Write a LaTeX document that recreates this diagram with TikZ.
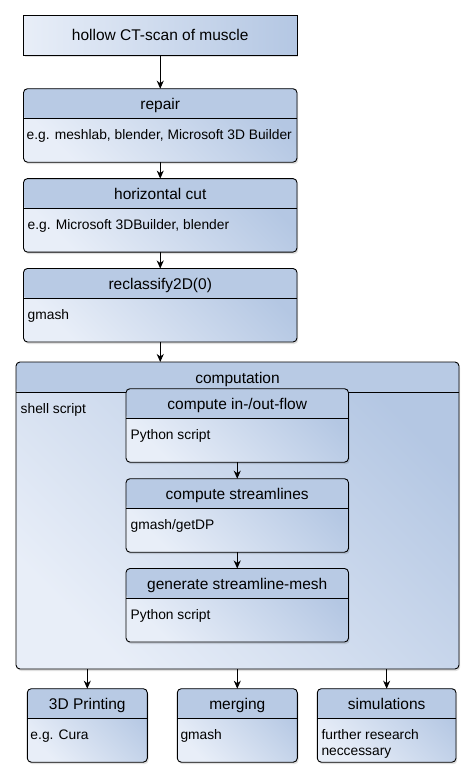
\documentclass[tikz,border=0pt]{standalone}
\usepackage{fontspec}
\setmainfont{Liberation Sans}
\usetikzlibrary{shadows,arrows.meta}
\definecolor{lightblue}{HTML}{E8EEF8}
\definecolor{darkblue}{HTML}{B4C7E3}
\definecolor{hdrblue}{HTML}{B8CAE4}
\tikzset{
  softshadow/.style={drop shadow={shadow xshift=1.2pt, shadow yshift=-2pt, opacity=0.12, fill=black}},
  plainbox/.style={draw=black, line width=0.9pt, left color=lightblue, right color=darkblue,
    inner sep=0pt, outer sep=0pt, anchor=north west, softshadow},
  card/.style={draw=black, line width=0.9pt, top color=darkblue, bottom color=lightblue,
    shading angle=-45, rounded corners=4pt, inner sep=0pt, outer sep=0pt, anchor=north west, softshadow,
    path picture={
      \fill[hdrblue] (path picture bounding box.north west) rectangle ([yshift=-30pt]path picture bounding box.north east);
      \draw[line width=0.9pt] ([yshift=-30pt]path picture bounding box.north west) -- ([yshift=-30pt]path picture bounding box.north east);
    }},
  hdrtext/.style={font=\fontsize{15.5}{18}\selectfont, anchor=base, inner sep=0pt},
  bodytext/.style={font=\fontsize{13.8}{16.5}\selectfont, anchor=base west, inner sep=0pt, align=left},
  arr/.style={-{Stealth[length=8pt,width=7pt,inset=2.5pt]}, line width=0.9pt},
}
\begin{document}
\begin{tikzpicture}[x=1pt,y=-1pt]
\useasboundingbox[fill=white] (0,0) rectangle (474,777);

% main column
\node[plainbox, minimum width=273.5pt, minimum height=39.5pt] (ct) at (23.5,15.5) {};
\node[hdrtext] (ctT) at ([yshift=-5.5pt]ct.center) {hollow CT-scan of muscle};

\node[card, minimum width=273.5pt, minimum height=73.5pt] (repair) at (23.5,88.7) {};
\node[hdrtext] (repairT) at ([yshift=-21pt]repair.north) {repair};
\node[bodytext] (repairB) at ([xshift=3pt,yshift=-51pt]repair.north west) {e.g. meshlab, blender, Microsoft 3D Builder};

\node[card, minimum width=273.5pt, minimum height=73.5pt] (hcut) at (23.5,178.6) {};
\node[hdrtext] (hcutT) at ([yshift=-21pt]hcut.north) {horizontal cut};
\node[bodytext] (hcutB) at ([xshift=4pt,yshift=-51pt]hcut.north west) {e.g. Microsoft 3DBuilder, blender};

\node[card, minimum width=273.5pt, minimum height=73.5pt] (recl) at (23.5,268.5) {};
\node[hdrtext] (reclT) at ([yshift=-21pt]recl.north) {reclassify2D(0)};
\node[bodytext] (reclB) at ([xshift=4pt,yshift=-51pt]recl.north west) {gmash};

% computation container
\node[card, minimum width=443pt, minimum height=307pt] (comp) at (16,362) {};
\node[hdrtext] (compT) at ([yshift=-21pt]comp.north) {computation};
\node[bodytext] (compB) at ([xshift=4.5pt,yshift=-51pt]comp.north west) {shell script};

\node[card, minimum width=222.5pt, minimum height=73.5pt] (inflow) at (126,388.7) {};
\node[hdrtext] (inflowT) at ([yshift=-21pt]inflow.north) {compute in-/out-flow};
\node[bodytext] (inflowB) at ([xshift=4.5pt,yshift=-51pt]inflow.north west) {Python script};

\node[card, minimum width=222.5pt, minimum height=73.5pt] (stream) at (126,478.7) {};
\node[hdrtext] (streamT) at ([yshift=-21pt]stream.north) {compute streamlines};
\node[bodytext] (streamB) at ([xshift=4.5pt,yshift=-51pt]stream.north west) {gmash/getDP};

\node[card, minimum width=222.5pt, minimum height=73.5pt] (gen) at (126,568.5) {};
\node[hdrtext] (genT) at ([yshift=-21pt]gen.north) {generate streamline-mesh};
\node[bodytext] (genB) at ([xshift=4.5pt,yshift=-51pt]gen.north west) {Python script};

% bottom row
\node[card, minimum width=120pt, minimum height=73.5pt] (print) at (27.3,688.7) {};
\node[hdrtext] (printT) at ([yshift=-21pt]print.north) {3D Printing};
\node[bodytext] (printB) at ([xshift=3pt,yshift=-51pt]print.north west) {e.g. Cura};

\node[card, minimum width=120pt, minimum height=73.5pt] (merge) at (177.3,688.7) {};
\node[hdrtext] (mergeT) at ([yshift=-21pt]merge.north) {merging};
\node[bodytext] (mergeB) at ([xshift=3pt,yshift=-51pt]merge.north west) {gmash};

\node[card, minimum width=138.7pt, minimum height=73.5pt] (sim) at (317.3,688.7) {};
\node[hdrtext] (simT) at ([yshift=-21pt]sim.north) {simulations};
\node[bodytext, anchor=north west] (simB) at ([xshift=4pt,yshift=-40.5pt]sim.north west) {further research\\neccessary};

% connectors
\draw[arr] (ct.south) -- (repair.north);
\draw[arr] (repair.south) -- (hcut.north);
\draw[arr] (hcut.south) -- (recl.north);
\draw[arr] (recl.south) -- (recl.south |- comp.north);
\draw[arr] (inflow.south) -- (stream.north);
\draw[arr] (stream.south) -- (gen.north);
\draw[arr] (comp.south -| print.north) -- (print.north);
\draw[arr] (comp.south -| merge.north) -- (merge.north);
\draw[arr] (comp.south -| sim.north) -- (sim.north);
\end{tikzpicture}
\end{document}
